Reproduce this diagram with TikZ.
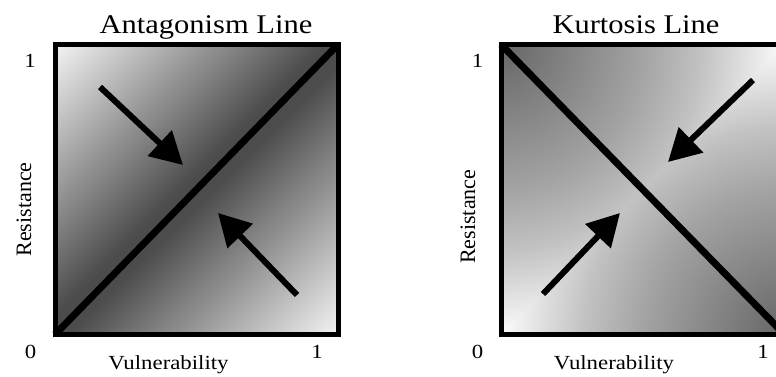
\documentclass[tikz,border=0pt]{standalone}
\usepackage{fontspec}
\setmainfont{Liberation Serif}
\usepackage{xcolor}
\usetikzlibrary{arrows.meta, calc}

\definecolor{antlight}{gray}{0.95}
\definecolor{antdark}{gray}{0.30}
\definecolor{kurdark}{gray}{0.40}
\definecolor{kurmid}{gray}{0.64}
\definecolor{kurpale}{gray}{0.76}
\definecolor{kurlight}{gray}{0.985}

\pgfdeclarehorizontalshading{antagshade}{100bp}{color(0bp)=(antlight); color(14.6bp)=(antlight); color(48bp)=(antdark); color(52bp)=(antdark); color(85.4bp)=(antlight); color(100bp)=(antlight)}
\pgfdeclareradialshading{kurtshade}{\pgfpointorigin}{color(0bp)=(kurdark); color(12.5bp)=(kurmid); color(17.7bp)=(kurpale); color(25bp)=(kurlight); color(50bp)=(kurlight)}

\begin{document}
\begin{tikzpicture}[
    x=1pt, y=-1pt,
    frame/.style={line width=5pt},
    diag/.style={line width=7pt},
    arrow/.style={line width=6pt, -{Triangle[length=32pt, width=34pt]}},
    title/.style={font=\fontsize{27}{32}\selectfont, xscale=1.13, anchor=base},
    tick/.style={font=\fontsize{20}{24}\selectfont, xscale=1.14, anchor=base},
    ylab/.style={font=\fontsize{22}{26}\selectfont, rotate=90, anchor=base}
  ]
  \useasboundingbox (0,0) rectangle (776,376);
  \clip (0,0) rectangle (776,376);

  % Corners
  \coordinate (aTL) at (55,44.5);
  \coordinate (aTR) at (338,44.5);
  \coordinate (aBL) at (55,334.5);
  \coordinate (aBR) at (338,334.5);
  \coordinate (kTL) at (501,44.5);
  \coordinate (kTR) at (784.5,44.5);
  \coordinate (kBL) at (501,334.5);
  \coordinate (kBR) at (784.5,334.5);

  % Shading - Antagonism
  \shade[shading=antagshade, shading angle=-45] (aTL) rectangle (aBR);

  % Shading - Kurtosis
  \begin{scope}
    \clip (kTL) rectangle (kBR);
    \shade[shading=kurtshade] ($(kTL)+(-283,-290)$) rectangle ($(kTL)+(283,290)$);
  \end{scope}
  \begin{scope}
    \clip (kBR) -- (kTR) -- (kBL) -- cycle;
    \shade[shading=kurtshade] ($(kBR)+(-283,-290)$) rectangle ($(kBR)+(283,290)$);
  \end{scope}

  % Lines and frames
  \draw[diag] (aBL) -- (aTR);
  \draw[frame] (aTL) rectangle (aBR);
  \draw[diag] (kTL) -- (kBR);
  \draw[frame] (kTL) rectangle (kBR);

  % Arrows
  \coordinate (a1s) at (100,87);
  \coordinate (a1e) at (183,165);
  \coordinate (a2s) at (297,295);
  \coordinate (a2e) at (218,213);
  \coordinate (k1s) at (753,80);
  \coordinate (k1e) at (668,162);
  \coordinate (k2s) at (543,294);
  \coordinate (k2e) at (620,213);
  \draw[arrow] (a1s) -- (a1e);
  \draw[arrow] (a2s) -- (a2e);
  \draw[arrow] (k1s) -- (k1e);
  \draw[arrow] (k2s) -- (k2e);

  % Labels
  \node[title] (antTitle) at (206,33.3) {Antagonism Line};
  \node[title] (kurTitle) at (636,33.3) {Kurtosis Line};

  \node[tick] (aOne) at (30,67) {1};
  \node[tick] (aZero) at (30.5,358) {0};
  \node[tick] (aOneX) at (317,358) {1};
  \node[tick] (aVul) at (168.5,369) {Vulnerability};
  \node[ylab] (aRes) at (31,209.5) {Resistance};

  \node[tick] (kOne) at (477.5,67) {1};
  \node[tick] (kZero) at (477.5,358) {0};
  \node[tick] (kOneX) at (763,358) {1};
  \node[tick] (kVul) at (614,369) {Vulnerability};
  \node[ylab] (kRes) at (475,216.7) {Resistance};
\end{tikzpicture}
\end{document}
